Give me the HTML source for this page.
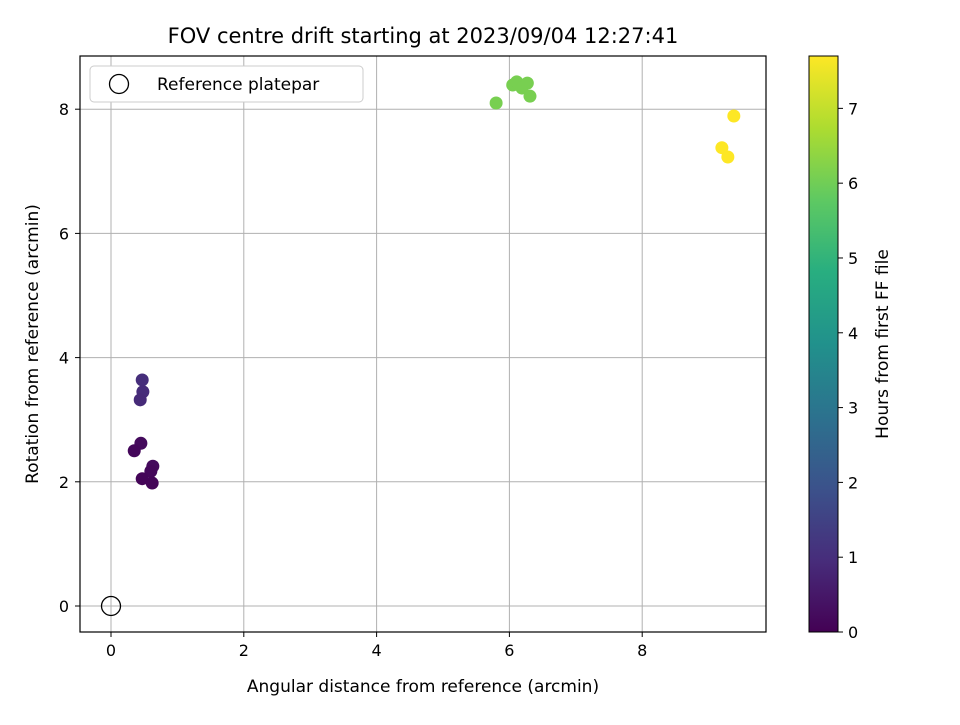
<!DOCTYPE html>
<html><head><meta charset="utf-8"><style>
body{margin:0;background:#fff}
svg{font-family:"DejaVu Sans","Liberation Sans",sans-serif}
</style></head><body>
<svg id="c" width="960" height="720" xmlns="http://www.w3.org/2000/svg">
<defs><linearGradient id="vir" x1="0" y1="1" x2="0" y2="0">
<stop offset="0" stop-color="#440154"/><stop offset="0.125" stop-color="#472d7b"/><stop offset="0.25" stop-color="#3b528b"/><stop offset="0.375" stop-color="#2c728e"/><stop offset="0.5" stop-color="#21918c"/><stop offset="0.625" stop-color="#28ae80"/><stop offset="0.75" stop-color="#5ec962"/><stop offset="0.875" stop-color="#addc30"/><stop offset="1" stop-color="#fde725"/>
</linearGradient></defs>
<text x="423" y="43" font-size="21" text-anchor="middle">FOV centre drift starting at 2023/09/04 12:27:41</text>
<g id="grid"></g>
<g id="pts"></g>
<rect x="80" y="56" width="686" height="576" fill="none" stroke="#000" stroke-width="1.2"/>
<g id="ticks"></g>
<text x="423" y="692" font-size="17" text-anchor="middle">Angular distance from reference (arcmin)</text>
<text transform="translate(38,344) rotate(-90)" font-size="17" text-anchor="middle">Rotation from reference (arcmin)</text>
<g>
<rect x="90" y="66" width="273" height="36" rx="4" fill="#fff" stroke="#ccc"/>
<circle cx="119" cy="84" r="9.5" fill="none" stroke="#000" stroke-width="1.3"/>
<text x="157" y="90" font-size="17">Reference platepar</text>
</g>
<rect x="809" y="56" width="29" height="576" fill="url(#vir)" stroke="#000"/>
<g id="cbt"></g>
<text transform="translate(888,344) rotate(-90)" font-size="17" text-anchor="middle">Hours from first FF file</text>
</svg>
<script>
const xs=[0.47,0.48,0.44,0.45,0.35,0.63,0.60,0.47,0.62,5.80,6.05,6.11,6.19,6.27,6.31,9.38,9.20,9.29];
const ys=[3.64,3.45,3.32,2.62,2.50,2.25,2.17,2.05,1.98,8.10,8.39,8.44,8.34,8.42,8.21,7.89,7.38,7.23];
const hours=[1.0,0.95,0.9,0.2,0.15,0.2,0.15,0.1,0.1,6.1,6.1,6.1,6.1,6.1,6.1,7.7,7.7,7.7];
const xTicks=[0,2,4,6,8];
const yTicks=[0,2,4,6,8];
const cTicks=[0,1,2,3,4,5,6,7];
const X=v=>111+v*66.4, Y=v=>606-v*62.1, HMAX=7.7, C=h=>632-h/HMAX*576;
const V=["#440154","#472d7b","#3b528b","#2c728e","#21918c","#28ae80","#5ec962","#addc30","#fde725"];
function vir(t){t=Math.max(0,Math.min(1,t))*8;const i=Math.min(7,Math.floor(t)),f=t-i;
const a=V[i],b=V[i+1],p=k=>parseInt(a.substr(k,2),16)*(1-f)+parseInt(b.substr(k,2),16)*f;
return `rgb(${p(1)|0},${p(3)|0},${p(5)|0})`;}
const NS="http://www.w3.org/2000/svg";
function mk(par,tag,at){const e=document.createElementNS(NS,tag);for(const k in at)e.setAttribute(k,at[k]);document.getElementById(par).appendChild(e);return e;}
xTicks.forEach(v=>{
const g=mk('grid','line',{x1:X(v),x2:X(v),y1:56,y2:632,stroke:'#b0b0b0','stroke-width':1});


const t=mk('ticks','line',{x1:X(v),x2:X(v),y1:632,y2:637,stroke:'#000'});


const l=mk('ticks','text',{x:X(v),y:656,'font-size':16,'text-anchor':'middle'});l.textContent=v;


});
yTicks.forEach(v=>{
const g=mk('grid','line',{x1:80,x2:766,y1:Y(v),y2:Y(v),stroke:'#b0b0b0','stroke-width':1});


const t=mk('ticks','line',{x1:75,x2:80,y1:Y(v),y2:Y(v),stroke:'#000'});


const l=mk('ticks','text',{x:69,y:Y(v)+6,'font-size':16,'text-anchor':'end'});l.textContent=v;


});
cTicks.forEach(v=>{
const t=mk('cbt','line',{x1:838,x2:843,y1:C(v),y2:C(v),stroke:'#000'});


const l=mk('cbt','text',{x:848,y:C(v)+6,'font-size':16});l.textContent=v;


});
const r=mk('pts','circle',{cx:X(0),cy:Y(0),r:9.5,fill:'none',stroke:'#000','stroke-width':1.3});


xs.forEach((x,i)=>{
const c=mk('pts','circle',{cx:X(x),cy:Y(ys[i]),r:6.5,fill:vir(hours[i]/HMAX)});


});
</script>
</body></html>
